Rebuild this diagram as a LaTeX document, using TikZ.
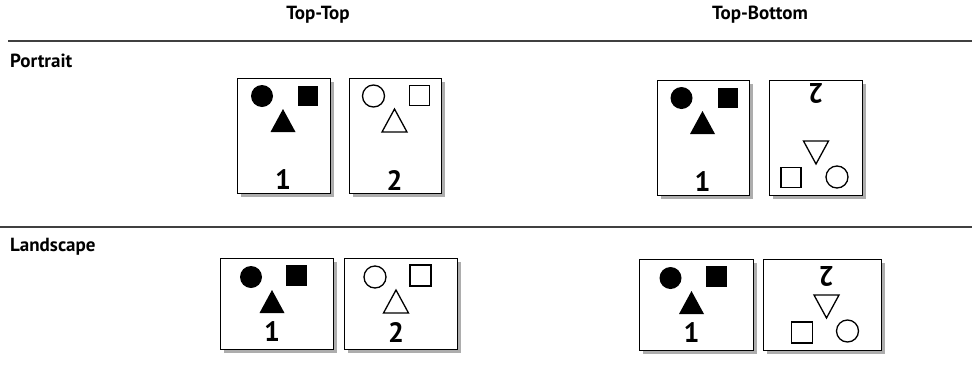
\documentclass[tikz,border=0pt]{standalone}
\usepackage{fontspec}
\setmainfont{PT Sans}
\newcommand\pagebox[5]{%
  \fill[shadowc] ({#2-#4/2+4},{#3-#5/2+4}) rectangle ({#2+#4/2+4},{#3+#5/2+4});
  \node[pagenode, minimum width=#4pt, minimum height=#5pt] (#1) at (#2,#3) {};}
% portrait content: name, cx, cy, rotation, shape style, digit
\newcommand\pcontent[6]{%
  \begin{scope}[shift={(#2,#3)}, rotate=#4]
    \path[#5] (-21.5,-39.5) circle[radius=11];
    \path[#5] (14.5,-50) rectangle (34.5,-30);
    \path[#5] (-0.5,-26.5) -- (12,-3.5) -- (-13,-3.5) -- cycle;
    \node[digit, transform shape] (#1) at (-0.5,44.5) {#6};
  \end{scope}}
% landscape content
\newcommand\lcontent[6]{%
  \begin{scope}[shift={(#2,#3)}, rotate=#4]
    \path[#5] (-25.5,-26.5) circle[radius=11];
    \path[#5] (9.5,-38.5) rectangle (30.5,-17.5);
    \path[#5] (-4.5,-13.5) -- (8,9.5) -- (-17,9.5) -- cycle;
    \node[digit, transform shape] (#1) at (-4.5,28.5) {#6};
  \end{scope}}
\begin{document}
\begin{tikzpicture}[x=1pt,y=-1pt,
  shadowc/.style={fill=black!32},
  pagenode/.style={draw=black, line width=0.9pt, fill=white, rectangle, inner sep=0pt},
  solid/.style={fill=black},
  hollow/.style={draw=black, line width=1.3pt, fill=white},
  hdr/.style={font=\bfseries\fontsize{19}{22}\selectfont, inner sep=0pt},
  digit/.style={font=\bfseries\fontsize{28}{32}\selectfont, inner sep=0pt},
  rule/.style={draw=black!75}]
\useasboundingbox (0,0) rectangle (972,381);
\node[hdr] (h1) at (318,15) {Top-Top};
\node[hdr] (h2) at (760,15) {Top-Bottom};
\coordinate (l1a) at (8,41); \coordinate (l1b) at (972,41);
\draw[rule, line width=2pt] (l1a) -- (l1b);
\coordinate (l2a) at (0,227); \coordinate (l2b) at (972,227);
\draw[rule, line width=1.1pt] (l2a) -- (l2b);
\node[hdr, anchor=west] (rp) at (10,61) {Portrait};
\node[hdr, anchor=west] (rl) at (10,247) {Landscape};
% portrait
\pagebox{pp1}{283.5}{135.5}{93}{115}
\pcontent{d1}{283.5}{135.5}{0}{solid}{1}
\pagebox{pp2}{395}{135.5}{92}{115}
\pcontent{d2}{395}{135.5}{0}{hollow}{2}
\pagebox{pb1}{703}{137.5}{92}{115}
\pcontent{d3}{703}{137.5}{0}{solid}{1}
\pagebox{pb2}{815.5}{137.5}{93}{115}
\pcontent{d4}{815.5}{137.5}{180}{hollow}{2}
% landscape
\pagebox{lp1}{276.5}{303.5}{113}{91}
\lcontent{d5}{276.5}{303.5}{0}{solid}{1}
\pagebox{lp2}{400.5}{303.5}{113}{91}
\lcontent{d6}{400.5}{303.5}{0}{hollow}{2}
\pagebox{lb1}{696}{304.5}{114}{91}
\lcontent{d7}{696}{304.5}{0}{solid}{1}
\pagebox{lb2}{822}{304.5}{118}{91}
\lcontent{d8}{822}{304.5}{180}{hollow}{2}
\end{tikzpicture}
\end{document}
